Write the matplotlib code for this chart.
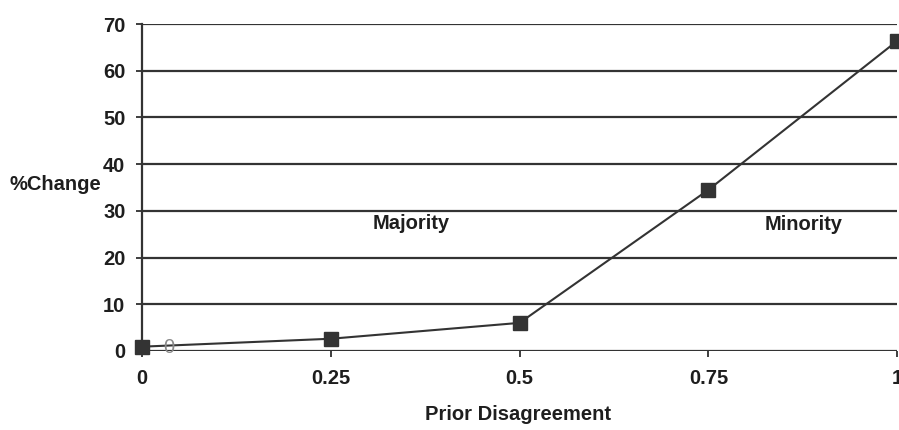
import matplotlib.pyplot as plt

# Prior disagreement vs. percent change
disagreement = [0, 0.25, 0.5, 0.75, 1]
pct_change = [0.9, 2.6, 6.0, 34.5, 66.4]
y_ticks = [0, 10, 20, 30, 40, 50, 60, 70]
x_ticks = [0, 0.25, 0.5, 0.75, 1]
x_tick_labels = ['0', '0.25', '0.5', '0.75', '1']

plt.rcParams['font.family'] = ['Liberation Sans', 'DejaVu Sans']
plt.rcParams['font.weight'] = 'bold'

dark = '#333333'
txt = '#1e1e1e'
fs = 14.5
fig = plt.figure(figsize=(8.99, 4.30), dpi=100)
ax = fig.add_axes([0.158, 0.184, 0.84, 0.76])

for yv in y_ticks:
    ax.axhline(yv, color=dark, linewidth=1.6, zorder=1)

ax.plot(disagreement, pct_change, color=dark, linewidth=1.5,
        marker='s', markersize=10, markerfacecolor=dark, markeredgecolor=dark,
        zorder=3, clip_on=False)

# data label on the first point
ax.text(0.035, pct_change[0] - 0.1, '0', color='#8a8a8a', fontsize=fs,
        ha='center', va='center', fontweight='normal')

ax.text(0.357, 27.2, 'Majority', fontsize=fs, ha='center', va='center', color=txt)
ax.text(0.876, 27.0, 'Minority', fontsize=fs, ha='center', va='center', color=txt)

ax.set_xlim(0, 1)
ax.set_ylim(0, 70)
ax.set_xticks(x_ticks)
ax.set_xticklabels(x_tick_labels)
ax.set_yticks(y_ticks)
ax.tick_params(axis='both', labelsize=fs, colors=txt, length=4, width=1.2)
ax.tick_params(axis='x', pad=9)
ax.tick_params(axis='y', pad=8)

for side in ['top', 'right', 'bottom']:
    ax.spines[side].set_visible(False)
ax.spines['left'].set_color(dark)
ax.spines['left'].set_linewidth(1.6)

fig.text(518 / 899, 1 - 414 / 430, 'Prior Disagreement', fontsize=fs,
         ha='center', va='center', color=txt, fontweight='bold')
fig.text(0.011, 1 - 185 / 430, '%Change', fontsize=fs, ha='left', va='center',
         color=txt, fontweight='bold')

fig.savefig('out.png', dpi=100)
